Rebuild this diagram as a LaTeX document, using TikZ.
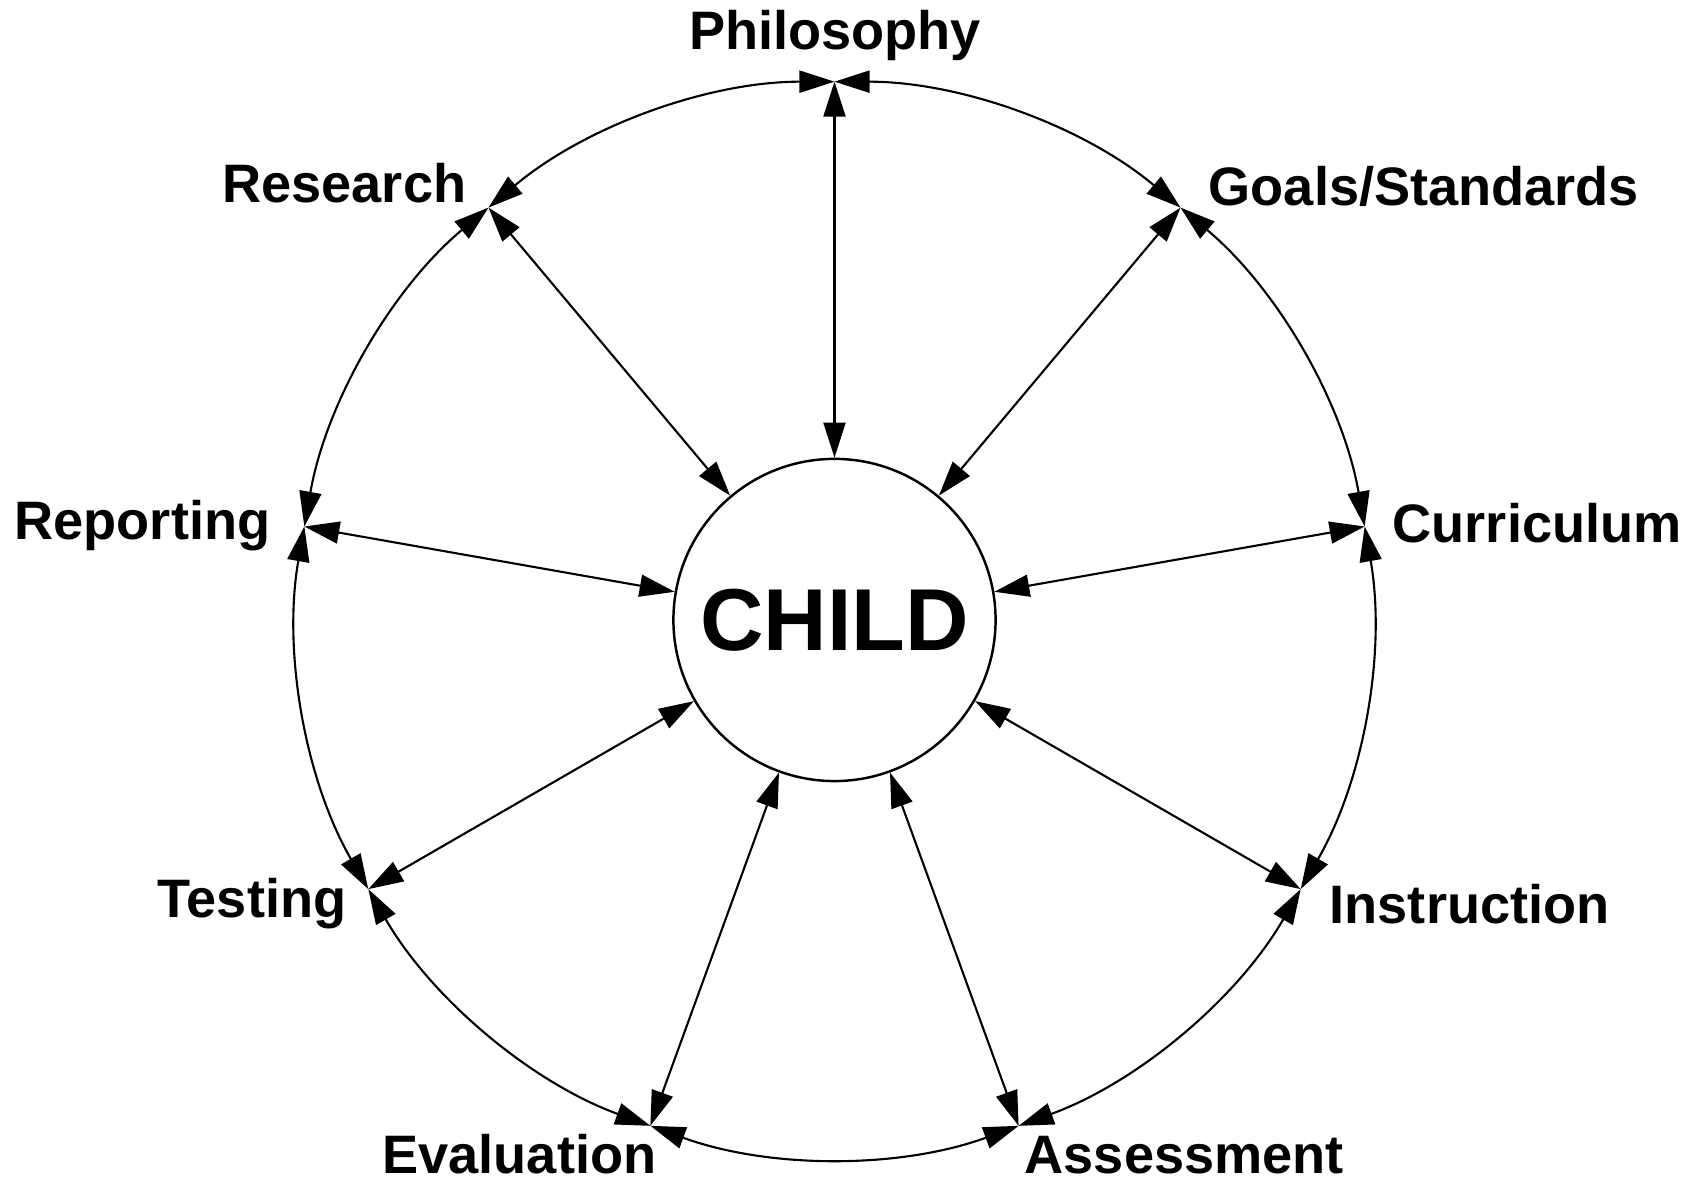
\documentclass[tikz,border=0pt]{standalone}
\usepackage{fontspec}
\setmainfont{Liberation Sans}
\usetikzlibrary{arrows.meta}
\begin{document}
\begin{tikzpicture}[x=0.01cm,y=0.01cm,
  link/.style={line width=0.6pt, {Triangle[length=0.35cm,width=0.22cm]}-{Triangle[length=0.35cm,width=0.22cm]}},
  lbl/.style={inner sep=0pt, font=\bfseries\fontsize{15.4pt}{18pt}\selectfont},
  hub/.style={circle, draw, line width=0.7pt, minimum size=3.22cm, inner sep=0pt, font=\bfseries\fontsize{25pt}{30pt}\selectfont}]
\useasboundingbox (0,0) rectangle (1702,1183);
\coordinate (O) at (834.5,563);
\node[hub] (child) at (O) {CHILD};
\foreach \n/\a in {phil/90, goal/50, curr/10, inst/-30, asse/-70, eval/-110, test/-150, repo/170, rese/130}
  \path (O) ++(\a:5.38cm) coordinate (\n);
\draw[link] (phil) arc[start angle=90, end angle=50, radius=5.38cm];
\draw[link] (goal) arc[start angle=50, end angle=10, radius=5.38cm];
\draw[link] (curr) arc[start angle=10, end angle=-30, radius=5.38cm];
\draw[link] (inst) arc[start angle=-30, end angle=-70, radius=5.38cm];
\draw[link] (asse) arc[start angle=-70, end angle=-110, radius=5.38cm];
\draw[link] (eval) arc[start angle=-110, end angle=-150, radius=5.38cm];
\draw[link] (test) arc[start angle=-150, end angle=-190, radius=5.38cm];
\draw[link] (repo) arc[start angle=170, end angle=130, radius=5.38cm];
\draw[link] (rese) arc[start angle=130, end angle=90, radius=5.38cm];
\foreach \n in {phil,goal,curr,inst,asse,eval,test,repo,rese}
  \draw[link] (child) -- (\n);
\node[lbl, anchor=base] (lphil) at (835,1133) {Philosophy};
\node[lbl, anchor=base east] (lrese) at (467,980) {Research};
\node[lbl, anchor=base west] (lgoal) at (1208,977) {Goals/Standards};
\node[lbl, anchor=base west] (lcurr) at (1392,640) {Curriculum};
\node[lbl, anchor=base east] (lrepo) at (271,643) {Reporting};
\node[lbl, anchor=base east] (ltest) at (347,265) {Testing};
\node[lbl, anchor=base west] (linst) at (1329,259) {Instruction};
\node[lbl, anchor=base east] (leval) at (657,9) {Evaluation};
\node[lbl, anchor=base west] (lasse) at (1024,9) {Assessment};
\end{tikzpicture}
\end{document}
